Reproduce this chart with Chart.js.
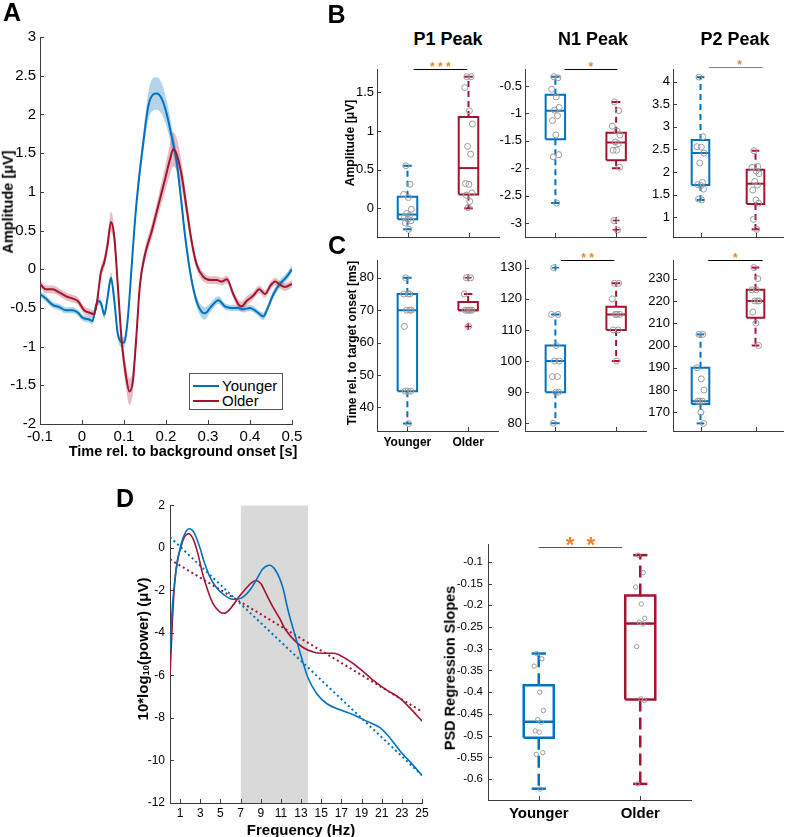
<!DOCTYPE html>
<html>
<head>
<meta charset="utf-8">
<script src="https://cdn.jsdelivr.net/npm/chart.js@4.4.1/dist/chart.umd.min.js"></script>
<style>
  body { margin: 0; background: #fff; font-family: 'Liberation Sans', Arial, sans-serif; }
  #fig { position: relative; width: 788px; height: 837px; overflow: hidden; background: #fff; }
  #fig canvas { position: absolute; }
  .t { position: absolute; white-space: nowrap; line-height: 1; color: #000; transform: translate(-50%, -50%); }
  .t.r { transform: translate(-50%, -50%) rotate(-90deg); }
  .t sub { font-size: 62%; vertical-align: -0.15em; }
</style>
</head>
<body>
<div id="fig"></div>
<script>
// ---- data ----
const groups = ['Younger', 'Older'];

// A: ERP waveforms (s, µV) with s.e.m.
const timeYounger = [-0.100,-0.086,-0.070,-0.054,-0.038,-0.022,-0.010,0.002,0.017,0.025,0.033,0.040,0.046,0.053,0.061,0.069,0.077,0.085,0.093,0.098,0.103,0.110,0.118,0.126,0.134,0.146,0.158,0.170,0.178,0.190,0.202,0.214,0.225,0.235,0.245,0.255,0.265,0.275,0.285,0.293,0.305,0.325,0.340,0.356,0.372,0.384,0.400,0.416,0.432,0.440,0.456,0.471,0.487,0.500];
const ampYounger = [-0.32,-0.38,-0.46,-0.49,-0.53,-0.53,-0.56,-0.63,-0.65,-0.67,-0.48,-0.41,-0.45,-0.59,-0.36,-0.11,-0.41,-0.83,-0.94,-0.95,-0.90,-0.58,0.02,0.62,1.09,1.64,2.11,2.26,2.27,2.20,2.00,1.70,1.40,0.95,0.45,0.05,-0.25,-0.45,-0.55,-0.57,-0.50,-0.40,-0.48,-0.50,-0.50,-0.52,-0.50,-0.55,-0.61,-0.53,-0.32,-0.19,-0.10,0.00];
const semYounger = [.04,.04,.04,.04,.04,.04,.04,.04,.04,.045,.05,.05,.05,.05,.06,.07,.06,.06,.07,.07,.07,.06,.06,.08,.10,.13,.18,.21,.21,.20,.17,.14,.12,.10,.08,.07,.07,.07,.08,.08,.06,.05,.04,.04,.04,.04,.04,.04,.05,.05,.05,.05,.05,.05];
const timeOlder = [-0.100,-0.086,-0.070,-0.054,-0.038,-0.022,-0.010,0.005,0.017,0.029,0.036,0.045,0.053,0.061,0.069,0.077,0.085,0.095,0.105,0.113,0.121,0.129,0.138,0.150,0.166,0.182,0.198,0.210,0.217,0.225,0.237,0.249,0.261,0.273,0.289,0.305,0.321,0.333,0.345,0.360,0.372,0.380,0.392,0.408,0.422,0.436,0.449,0.460,0.471,0.483,0.500];
const ampOlder = [-0.19,-0.26,-0.26,-0.30,-0.35,-0.38,-0.41,-0.53,-0.56,-0.58,-0.41,-0.04,0.09,0.32,0.61,0.41,-0.19,-0.96,-1.39,-1.58,-1.45,-0.90,-0.20,0.19,0.49,0.83,1.17,1.43,1.55,1.49,1.22,0.79,0.36,0.06,-0.10,-0.14,-0.14,-0.16,-0.13,-0.32,-0.45,-0.48,-0.41,-0.34,-0.26,-0.32,-0.21,-0.16,-0.20,-0.23,-0.19];
const semOlder = [.05,.05,.05,.05,.05,.05,.05,.05,.05,.05,.06,.07,.08,.10,.13,.12,.10,.12,.15,.17,.15,.12,.09,.09,.10,.12,.16,.20,.22,.21,.17,.12,.09,.07,.06,.05,.05,.05,.05,.05,.06,.06,.06,.05,.05,.05,.05,.05,.05,.05,.05];
const timeTicks = [-0.1, 0, 0.1, 0.2, 0.3, 0.4, 0.5];
const ampTicks = [-2, -1.5, -1, -0.5, 0, 0.5, 1, 1.5, 2, 2.5, 3];

// B: peak amplitudes (µV) — box = [low whisker, q1, median, q3, high whisker]
const p1AmpBox = [[-0.27, -0.14, -0.08, 0.15, 0.55], [0.0, 0.18, 0.52, 1.18, 1.70]];
const p1AmpPts = [[0.55, 0.31, 0.18, 0.14, -0.01, -0.065, -0.09, -0.11, -0.14, -0.16, -0.19, -0.27],
                  [1.70, 1.70, 1.56, 1.26, 1.09, 0.80, 0.70, 0.32, 0.31, 0.20, 0.17, 0.09, 0.01]];
const p1AmpOut = [[], []];
const n1AmpBox = [[-2.63, -1.47, -0.95, -0.66, -0.33], [-2.0, -1.85, -1.53, -1.35, -0.79]];
const n1AmpPts = [[-0.33, -0.35, -0.56, -0.70, -0.89, -0.94, -1.04, -1.13, -1.39, -1.75, -1.79, -2.63],
                  [-0.79, -0.95, -1.23, -1.32, -1.39, -1.52, -1.55, -1.67, -1.67, -1.98, -2.95, -3.12]];
const n1AmpOut = [[], [-2.95, -3.12]];
const p2AmpBox = [[1.38, 1.71, 2.42, 2.71, 4.10], [0.73, 1.29, 1.74, 2.05, 2.47]];
const p2AmpPts = [[4.10, 2.78, 2.56, 2.55, 2.42, 2.20, 1.77, 1.72, 1.70, 1.62, 1.40, 1.38],
                  [2.47, 2.12, 2.10, 2.02, 1.96, 1.79, 1.71, 1.60, 1.38, 1.31, 0.95, 0.73]];
const p2AmpOut = [[], []];
const p1AmpTicks = [0, 0.5, 1, 1.5];
const n1AmpTicks = [-3, -2.5, -2, -1.5, -1, -0.5];
const p2AmpTicks = [1, 1.5, 2, 2.5, 3, 3.5, 4];

// C: peak latencies (ms)
const p1LatBox = [[35, 45, 70, 75, 80], [70, 70, 70, 72.5, 75]];
const p1LatPts = [[80, 75, 75, 75, 70, 70, 70, 65, 45, 45, 45, 35], [80, 80, 75, 70, 70, 70, 70, 70, 65]];
const p1LatOut = [[], [80, 65]];
const n1LatBox = [[80, 90, 100, 105, 115], [100, 110, 115, 117.5, 125]];
const n1LatPts = [[130, 115, 115, 105, 100, 100, 95, 95, 90, 90, 80], [125, 125, 120, 115, 115, 115, 110, 110, 100]];
const n1LatOut = [[130], []];
const p2LatBox = [[165, 173.75, 175, 190, 205], [200, 212.5, 220, 225, 235]];
const p2LatPts = [[205, 205, 190, 185, 180, 175, 175, 175, 170, 165], [235, 230, 225, 225, 220, 220, 220, 215, 210, 200]];
const p2LatOut = [[], []];
const p1LatTicks = [40, 50, 60, 70, 80];
const n1LatTicks = [80, 90, 100, 110, 120, 130];
const p2LatTicks = [170, 180, 190, 200, 210, 220, 230];

// D: power spectra (Hz, dB) and linear fits
const psdFreqYounger = [0,0.26,0.6,1.09,1.59,1.92,2.41,2.91,3.41,3.9,4.56,5.39,6.22,6.71,7.37,8.04,8.53,9.2,9.85,10.5,11.18,11.74,12.4,13.07,13.72,14.55,15.5,16.87,18.19,19.5,20.83,21.66,22.8,23.98,25];
const psdYounger = [-4.8,-2.6,-1.08,0.15,0.77,0.89,0.69,0.08,-0.69,-1.31,-1.85,-2.23,-2.42,-2.42,-2.28,-1.92,-1.54,-1.0,-0.82,-1.08,-1.85,-3.0,-4.1,-5.2,-6.15,-6.85,-7.31,-7.62,-7.85,-8.15,-8.46,-8.85,-9.54,-10.15,-10.7];
const psdFreqOlder = [0,0.33,0.6,1.09,1.42,1.85,2.25,2.74,3.24,3.74,4.23,4.9,5.39,5.89,6.38,6.88,7.54,8.04,8.53,9.03,9.52,10.19,10.85,11.5,12.4,13.2,14.2,15.2,16.2,17.5,18.85,20.17,21.5,22.82,23.98,25];
const psdOlder = [-6.0,-2.6,-1.0,0.05,0.5,0.66,0.46,-0.23,-1.23,-2.0,-2.59,-3.0,-3.08,-2.92,-2.62,-2.28,-1.92,-1.66,-1.54,-1.69,-2.15,-2.77,-3.3,-3.88,-4.38,-4.69,-4.9,-4.96,-4.96,-5.23,-5.69,-6.23,-6.69,-7.08,-7.62,-8.15];
const fitFreq = [0, 25];
const fitYounger = [0.5, -10.7];
const fitOlder = [-0.55, -7.7];
const alphaBand = [7, 13.7];
const freqTicks = [1, 3, 5, 7, 9, 11, 13, 15, 17, 19, 21, 23, 25];
const powerTicks = [-12, -10, -8, -6, -4, -2, 0, 2];

// D right: PSD regression slopes
const slopeBox = [[-0.622, -0.5046, -0.468, -0.384, -0.311], [-0.611, -0.417, -0.242, -0.1775, -0.0846]];
const slopePts = [[-0.311, -0.323, -0.340, -0.400, -0.442, -0.463, -0.469, -0.489, -0.492, -0.539, -0.543, -0.623],
                  [-0.085, -0.125, -0.158, -0.197, -0.230, -0.239, -0.243, -0.295, -0.415, -0.419, -0.611]];
const slopeOut = [[], []];
const slopeTicks = [-0.6, -0.55, -0.5, -0.45, -0.4, -0.35, -0.3, -0.25, -0.2, -0.15, -0.1];

// ---- styling ----
Chart.defaults.font.family = "'Liberation Sans', Arial, Helvetica, sans-serif";
Chart.defaults.color = '#000';
const AXIS = '#3c3c3c';
const BLUE = '#0072BD', RED = '#A2142F', ORANGE = '#F5821F';
const COLORS = [BLUE, RED];
const JITTER = [-0.4, 0.6, -0.9, 0.2, 0.9, -0.2, 0.5, -0.7, 0.1, 0.8, -0.5, 0.3, -0.1];
const fig = document.getElementById('fig');

// MATLAB-like inward tick marks
const inTicks = {
  id: 'inTicks',
  afterDraw(chart) {
    const { ctx, chartArea: a, scales: { x, y } } = chart;
    ctx.save();
    ctx.strokeStyle = AXIS;
    ctx.lineWidth = 1;
    ctx.beginPath();
    x.ticks.forEach(t => {
      const p = Math.round(x.getPixelForValue(t.value)) + 0.5;
      ctx.moveTo(p, a.bottom); ctx.lineTo(p, a.bottom - 4);
    });
    y.ticks.forEach(t => {
      const p = Math.round(y.getPixelForValue(t.value)) + 0.5;
      ctx.moveTo(a.left, p); ctx.lineTo(a.left + 4, p);
    });
    ctx.stroke();
    ctx.restore();
  }
};

// significance bracket + asterisks
const sigMark = {
  id: 'sigMark',
  afterDraw(chart, args, o) {
    if (!o || !o.text) return;
    const { ctx, chartArea: a, scales: { x } } = chart;
    const x0 = x.getPixelForValue(o.from), x1 = x.getPixelForValue(o.to);
    const y = Math.round(a.top + (o.dy || 0)) + 0.5;
    ctx.save();
    ctx.strokeStyle = o.lineColor || '#000';
    ctx.lineWidth = 1;
    ctx.beginPath(); ctx.moveTo(x0, y); ctx.lineTo(x1, y); ctx.stroke();
    ctx.fillStyle = ORANGE;
    ctx.font = 'bold ' + o.size + "px 'Liberation Sans', Arial, sans-serif";
    ctx.textAlign = 'center';
    ctx.textBaseline = 'alphabetic';
    ctx.fillText(o.text, (x0 + x1) / 2 + (o.dx || 0), y + o.textDy);
    ctx.restore();
  }
};

function axis(min, max, ticks, fmt, font, pad) {
  return {
    type: 'linear', min, max,
    grid: { display: false, drawTicks: false },
    border: { display: true, color: AXIS, width: 1 },
    afterBuildTicks: s => { s.ticks = ticks.map(v => ({ value: v })); },
    ticks: { callback: fmt || (v => String(v)), font, padding: pad, maxRotation: 0, autoSkip: false, color: '#000' }
  };
}

// area = [left, top, right, bottom] of the plot box on the page
function makeChart(area, pad, cfg) {
  const [l, t, r, b] = area;
  const c = document.createElement('canvas');
  const w = r - l + pad.yW + pad.right, h = b - t + pad.top + pad.xH;
  c.width = w; c.height = h;
  c.style.left = (l - pad.yW) + 'px';
  c.style.top = (t - pad.top) + 'px';
  c.style.width = w + 'px';
  c.style.height = h + 'px';
  fig.appendChild(c);
  cfg.options.scales.x.afterFit = s => { s.height = pad.xH; };
  cfg.options.scales.y.afterFit = s => { s.width = pad.yW; };
  cfg.options.layout = { padding: { left: 0, top: pad.top, right: pad.right, bottom: 0 } };
  Object.assign(cfg.options, { responsive: false, animation: false, events: [], devicePixelRatio: 1 });
  cfg.plugins = [inTicks, sigMark];
  return new Chart(c, cfg);
}

function boxSets(pos, stats, pts, outs, color, g) {
  const [lo, q1, med, q3, hi] = stats;
  const w = g.half, c = g.cap;
  const seg = (data, dash) => ({
    data, showLine: true, borderColor: color, borderWidth: g.lw, borderDash: dash || [],
    borderJoinStyle: 'miter', pointRadius: 0, fill: false, tension: 0, order: 2
  });
  return [
    seg([{ x: pos - w, y: q1 }, { x: pos + w, y: q1 }, { x: pos + w, y: q3 }, { x: pos - w, y: q3 }, { x: pos - w, y: q1 }]),
    seg([{ x: pos - w, y: med }, { x: pos + w, y: med }]),
    seg([{ x: pos, y: q3 }, { x: pos, y: hi }], g.dash),
    seg([{ x: pos, y: q1 }, { x: pos, y: lo }], g.dash),
    seg([{ x: pos - c, y: hi }, { x: pos + c, y: hi }]),
    seg([{ x: pos - c, y: lo }, { x: pos + c, y: lo }]),
    {
      data: pts.map((v, i) => ({ x: pos + JITTER[i % JITTER.length] * g.jit, y: v })),
      showLine: false, pointRadius: g.r, pointBorderColor: '#9b9b9b', pointBackgroundColor: 'rgba(255,255,255,0)',
      pointBorderWidth: 1, order: 0
    },
    {
      data: outs.map(v => ({ x: pos, y: v })), showLine: false, pointStyle: 'cross',
      pointRadius: 3.5, pointBorderColor: color, pointBorderWidth: 1.5, order: 1
    }
  ];
}

function boxChart(area, pad, p) {
  const datasets = [];
  [1, 2].forEach(k => datasets.push(...boxSets(k, p.box[k - 1], p.pts[k - 1], p.out[k - 1], COLORS[k - 1], p.geom)));
  return makeChart(area, pad, {
    type: 'scatter',
    data: { datasets },
    options: {
      plugins: { legend: { display: false }, tooltip: { enabled: false }, sigMark: p.sig || false },
      scales: {
        x: axis(0.5, 2.5, [1, 2], v => (p.labels ? groups[v - 1] : ''), p.xFont || { size: 12 }, p.xPad || 4),
        y: axis(p.min, p.max, p.ticks, null, { size: p.yFont }, p.yPad)
      }
    }
  });
}

// ---- A: ERP ----
const pairs = (xs, ys) => xs.map((x, i) => ({ x, y: ys[i] }));
const band = (xs, ys, es, s) => xs.map((x, i) => ({ x, y: ys[i] + s * es[i] }));
const lineDs = (data, color, order) => ({ data, borderColor: color, borderWidth: 2, pointRadius: 0, fill: false, cubicInterpolationMode: 'monotone', order });
const bandDs = (data, color, fill, order) => ({ data, borderWidth: 0, borderColor: 'rgba(0,0,0,0)', backgroundColor: color, pointRadius: 0, fill, cubicInterpolationMode: 'monotone', order });

makeChart([40, 34, 292, 424], { yW: 40, top: 10, right: 15, xH: 26 }, {
  type: 'line',
  data: {
    datasets: [
      bandDs(band(timeYounger, ampYounger, semYounger, 1), 'rgba(0,114,189,0.3)', false, 5),
      bandDs(band(timeYounger, ampYounger, semYounger, -1), 'rgba(0,114,189,0.3)', 0, 5),
      bandDs(band(timeOlder, ampOlder, semOlder, 1), 'rgba(162,20,47,0.28)', false, 4),
      bandDs(band(timeOlder, ampOlder, semOlder, -1), 'rgba(162,20,47,0.28)', 2, 4),
      lineDs(pairs(timeYounger, ampYounger), BLUE, 2),
      lineDs(pairs(timeOlder, ampOlder), RED, 1)
    ]
  },
  options: {
    plugins: { legend: { display: false }, tooltip: { enabled: false }, sigMark: false },
    scales: {
      x: axis(-0.1, 0.5, timeTicks, v => String(Math.round(v * 10) / 10), { size: 15 }, 4),
      y: axis(-2, 3, ampTicks, null, { size: 15 }, 4)
    }
  }
});

// ---- B / C: box plots ----
const geomBC = { half: 0.16, cap: 0.07, lw: 2, dash: [6, 4], jit: 0.07, r: 3 };
const padB = { yW: 40, top: 20, right: 3, xH: 14 };
const padC = { yW: 40, top: 20, right: 3, xH: 24 };
const sigB = (text, from, to, extra) => Object.assign({ text, from, to, size: 12, textDy: 1, dy: 0 }, extra || {});

boxChart([377, 69, 501, 237], padB, { box: p1AmpBox, pts: p1AmpPts, out: p1AmpOut, min: -0.37, max: 1.8, ticks: p1AmpTicks, yFont: 13, yPad: 3, geom: geomBC, sig: sigB('* * *', 1.1, 1.98) });
boxChart([525, 69, 649, 237], padB, { box: n1AmpBox, pts: n1AmpPts, out: n1AmpOut, min: -3.25, max: -0.19, ticks: n1AmpTicks, yFont: 13, yPad: 3, geom: geomBC, sig: sigB('*', 1.15, 2.02) });
boxChart([673, 69, 785, 237], padB, { box: p2AmpBox, pts: p2AmpPts, out: p2AmpOut, min: 0.56, max: 4.28, ticks: p2AmpTicks, yFont: 13, yPad: 3, geom: geomBC, sig: sigB('*', 1.15, 2.13, { dy: -2, lineColor: '#808080', dx: 4 }) });

boxChart([377, 260, 501, 431], padC, { box: p1LatBox, pts: p1LatPts, out: p1LatOut, min: 32.7, max: 85.5, ticks: p1LatTicks, yFont: 13, yPad: 3, geom: geomBC, labels: true, xFont: { size: 12, weight: 'bold' }, xPad: 4 });
boxChart([525, 260, 649, 431], padB, { box: n1LatBox, pts: n1LatPts, out: n1LatOut, min: 77.5, max: 132.5, ticks: n1LatTicks, yFont: 13, yPad: 3, geom: geomBC, sig: sigB('* *', 1.09, 1.97) });
boxChart([673, 260, 785, 431], padB, { box: p2LatBox, pts: p2LatPts, out: p2LatOut, min: 161.6, max: 238.4, ticks: p2LatTicks, yFont: 13, yPad: 3, geom: geomBC, sig: sigB('*', 1.14, 2.13) });

// ---- D left: PSD ----
const psdDs = (xs, ys, color, order) => ({ data: pairs(xs, ys), borderColor: color, borderWidth: 1.6, pointRadius: 0, fill: false, cubicInterpolationMode: 'monotone', order });
const fitDs = (ys, color) => ({ data: pairs(fitFreq, ys), borderColor: color, borderWidth: 2, borderDash: [2, 3], pointRadius: 0, fill: false, tension: 0, order: 3 });

makeChart([170, 503, 422, 803], { yW: 40, top: 10, right: 12, xH: 20 }, {
  type: 'line',
  data: {
    datasets: [
      { data: [{ x: alphaBand[0], y: 2 }, { x: alphaBand[1], y: 2 }], borderWidth: 0, pointRadius: 0, backgroundColor: '#d9d9d9', fill: 'start', tension: 0, order: 9 },
      fitDs(fitYounger, BLUE),
      fitDs(fitOlder, RED),
      psdDs(psdFreqOlder, psdOlder, RED, 2),
      psdDs(psdFreqYounger, psdYounger, BLUE, 1)
    ]
  },
  options: {
    plugins: { legend: { display: false }, tooltip: { enabled: false }, sigMark: false },
    scales: {
      x: axis(0, 25, freqTicks, null, { size: 12 }, 3),
      y: axis(-12, 2, powerTicks, null, { size: 12 }, 5)
    }
  }
});

// ---- D right: slopes ----
boxChart([488, 544, 691, 800], { yW: 45, top: 20, right: 10, xH: 26 }, {
  box: slopeBox, pts: slopePts, out: slopeOut, min: -0.648, max: -0.059, ticks: slopeTicks, yFont: 11.5, yPad: 5,
  geom: { half: 0.148, cap: 0.07, lw: 2.5, dash: [12, 6], jit: 0.05, r: 2.2 },
  labels: true, xFont: { size: 15, weight: 'bold' }, xPad: 5,
  sig: { text: '*  *', from: 1.0, to: 1.82, size: 22, textDy: 4.5, dy: 3, lineColor: '#555' }
});

// ---- text ----
function label(html, x, y, size, opts) {
  opts = opts || {};
  const d = document.createElement('div');
  d.className = 't' + (opts.rot ? ' r' : '');
  d.style.left = x + 'px';
  d.style.top = y + 'px';
  d.style.fontSize = size + 'px';
  d.style.fontWeight = opts.normal ? 'normal' : 'bold';
  d.innerHTML = html;
  fig.appendChild(d);
}

label('A', 12, 12, 25);
label('B', 336.5, 14, 25);
label('C', 337, 245, 25);
label('D', 125, 497.5, 25);
label('P1 Peak', 448, 38.5, 18);
label('N1 Peak', 593, 38.5, 18);
label('P2 Peak', 735, 38.5, 18);
label('Amplitude [μV]', 8, 201.5, 14.5, { rot: true });
label('Time rel. to background onset [s]', 183, 451, 14.5);
label('Amplitude [μV]', 349.5, 143.3, 12.2, { rot: true });
label('Time rel. to target onset [ms]', 352, 342.5, 12, { rot: true });
label('10*log<sub>10</sub>(power) (μV)', 143, 649, 15, { rot: true });
label('Frequency (Hz)', 301, 829, 15);
label('PSD Regression Slopes', 449.5, 668, 14.5, { rot: true });

// legend of panel A
const leg = document.createElement('div');
leg.style.cssText = 'position:absolute;left:189px;top:373px;width:92px;height:35px;border:1px solid #555;background:#fff;';
groups.forEach((g, i) => {
  const ln = document.createElement('div');
  ln.style.cssText = `position:absolute;left:3px;top:${11 + i * 15}px;width:26px;height:2px;background:${COLORS[i]};`;
  const tx = document.createElement('div');
  tx.style.cssText = `position:absolute;left:32px;top:${4 + i * 15}px;font-size:15px;line-height:15px;`;
  tx.textContent = g;
  leg.appendChild(ln);
  leg.appendChild(tx);
});
fig.appendChild(leg);
</script>
</body>
</html>
